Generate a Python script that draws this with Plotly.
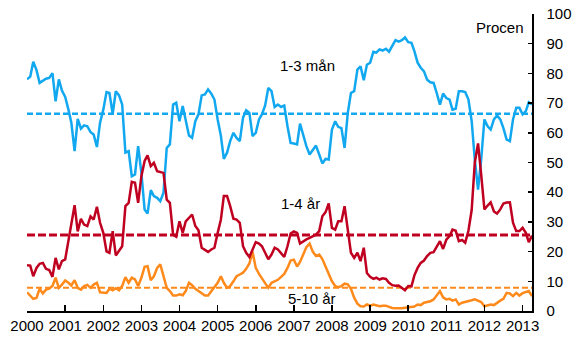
import pandas as pd
import plotly.graph_objects as go

# Monthly observations, Jan 2000 - Apr 2013
months = pd.date_range("2000-01-01", periods=160, freq="MS")

short_1_3m = [
    78.0, 78.9, 83.9, 81.1, 76.8, 77.6, 78.2, 78.5, 80.1, 70.6,
    78.0, 74.2, 72.1, 67.8, 63.4, 53.8, 64.7, 61.4, 62.5, 62.2,
    60.2, 59.4, 55.2, 63.4, 67.8, 73.7, 73.4, 66.4, 74.0, 72.6,
    69.5, 53.3, 53.8, 45.4, 46.0, 55.5, 46.5, 34.2, 32.8, 40.7,
    38.7, 38.1, 37.0, 39.8, 54.9, 56.1, 69.5, 70.1, 63.9, 69.0,
    64.5, 59.1, 58.3, 63.9, 66.2,
    72.6, 72.9, 74.6, 73.2, 71.2, 64.5, 58.9, 51.2, 53.3, 57.2,
    60.0, 58.3, 57.2, 65.1, 67.6, 66.7, 58.9, 60.0, 64.5, 66.2,
    69.2, 75.1, 74.0, 68.7, 69.5, 68.7, 69.2, 62.2, 56.6, 56.4,
    56.1, 63.1, 58.9, 55.5, 52.7, 54.4, 55.7, 52.7, 49.7, 51.2,
    51.0, 61.1, 63.9, 62.0, 61.6, 54.9, 66.7, 73.4, 74.0, 81.3,
    82.4, 77.7, 82.9,
    83.6, 87.3, 87.0, 88.1, 87.7, 88.3, 87.3, 89.4, 91.2, 90.7,
    91.2, 92.1, 90.5, 90.3, 87.5, 83.6, 81.9, 80.7, 77.9, 77.0,
    76.8, 73.4, 69.5, 73.2, 71.7, 71.2, 67.8, 68.1, 74.0, 74.0,
    73.7, 71.2, 63.9, 51.0, 40.9, 51.0, 64.5, 62.2, 61.1, 64.5,
    65.8, 64.5, 61.6, 57.7, 57.2, 64.5, 68.4, 68.4, 66.2, 67.3,
    70.3, 69.5,
]

mid_1_4y = [
    15.4, 15.3, 11.7, 14.5, 15.9, 16.2, 14.2, 13.8, 11.5, 17.9,
    14.0, 16.8, 17.4, 23.2, 29.1, 35.6, 26.8, 31.0, 29.1, 28.6,
    31.9, 30.8, 35.1, 29.7, 26.3, 20.1, 19.6, 26.9, 18.7, 20.5,
    21.8, 35.3, 36.4, 43.5, 43.2, 36.4, 45.4, 50.5, 52.4, 48.8,
    49.9, 47.1, 46.7, 46.5, 37.5, 36.4, 25.7, 25.0, 30.2, 26.3,
    30.2, 31.4, 32.5, 28.6, 27.2,
    21.3, 20.7, 19.9, 20.7, 21.3, 26.3, 30.8, 38.7, 38.7, 35.3,
    31.1, 30.8, 29.7, 21.8, 19.6, 18.2, 20.7, 23.2, 22.7, 21.8,
    19.6, 17.4, 19.0, 21.3, 20.7, 19.6, 18.2, 21.8, 26.1, 26.8,
    26.3, 22.7, 23.5, 24.1, 24.6, 25.2, 25.7, 26.9, 31.9, 33.3,
    36.2, 28.0, 27.4, 30.2, 30.2, 35.3, 26.3, 19.6, 17.9, 19.6,
    16.8, 21.3, 12.8,
    11.5, 10.8, 11.2, 10.6, 11.0, 10.8, 9.5, 8.7, 8.5, 8.6,
    7.8, 7.0, 8.4, 8.3, 12.0, 14.5, 16.2, 17.0, 18.5, 19.6,
    19.8, 21.5, 23.5, 20.9, 24.0, 25.2, 27.4, 27.0, 23.5, 23.9,
    23.0, 27.0, 34.0, 50.0, 56.4, 46.0, 34.2, 35.5, 36.6, 33.5,
    32.8, 34.2, 36.2, 36.5, 36.6, 29.7, 26.9, 26.9, 28.0, 26.3,
    23.2, 25.4,
]

long_5_10y = [
    6.3, 5.0, 4.1, 4.4, 7.5, 5.9, 7.2, 7.5, 8.4, 11.2,
    7.8, 8.9, 10.3, 9.5, 8.6, 10.4, 7.8, 7.2, 8.4, 8.8,
    7.8, 8.9, 9.5, 6.3, 6.1, 6.1, 7.5, 7.0, 7.7, 7.0,
    8.4, 11.4, 9.5, 11.2, 10.6, 8.4, 11.2, 14.9, 15.1, 10.4,
    11.7, 14.5, 15.7, 11.7, 7.8, 6.7, 5.2, 5.2, 5.6, 5.3,
    6.7, 9.5, 8.7, 7.5, 6.7,
    5.9, 5.2, 5.2, 6.7, 8.4, 9.5, 11.7, 9.5, 7.8, 8.4,
    10.0, 11.7, 12.3, 12.9, 14.2, 16.0, 20.0, 14.5, 12.5, 11.0,
    9.0, 7.8, 9.5, 10.0, 10.5, 11.5, 12.5, 14.5, 17.0, 17.3,
    15.0, 16.5, 19.0, 21.5, 22.7, 20.0, 18.5, 19.0, 17.5, 15.0,
    12.5, 10.0, 8.4, 8.0, 8.4, 9.2, 9.0, 7.5, 4.5, 2.5,
    1.6, 1.5, 2.2,
    1.8, 2.2, 2.0, 1.6, 1.8, 1.8, 1.4, 1.0, 0.9, 0.8,
    0.9, 1.1, 1.2, 1.4, 1.5, 2.2, 2.0, 2.8, 3.0, 3.3,
    3.9, 5.2, 6.7, 4.6, 3.9, 4.1, 3.5, 3.9, 2.2, 2.8,
    3.0, 3.3, 3.6, 3.9, 3.5, 3.0, 1.6, 2.0, 2.2, 2.0,
    2.8, 3.5, 4.1, 6.1, 5.9, 5.0, 6.1, 5.2, 6.0, 6.5,
    6.7, 5.0,
]

# Period averages (dashed lines)
avg_1_3m = 66.4
avg_1_4y = 25.6
avg_5_10y = 7.8

series_labels = ["1-3 mån", "1-4 år", "5-10 år"]
year_ticks = [str(y) for y in range(2000, 2014)]

BLUE = "#12A8F0"
RED = "#C00020"
ORANGE = "#FF8A1C"
FONT = "Liberation Sans, Arial, sans-serif"

fig = go.Figure()

x_span = [months[0], months[-1]]
fig.add_trace(go.Scatter(x=x_span, y=[avg_5_10y] * 2, mode="lines",
                         line=dict(color=ORANGE, width=2, dash="6px,3px")))
fig.add_trace(go.Scatter(x=x_span, y=[avg_1_3m] * 2, mode="lines",
                         line=dict(color=BLUE, width=2.5, dash="6px,3px")))
fig.add_trace(go.Scatter(x=months, y=long_5_10y, mode="lines",
                         line=dict(color=ORANGE, width=2.5)))
fig.add_trace(go.Scatter(x=months, y=short_1_3m, mode="lines",
                         line=dict(color=BLUE, width=2.5)))
fig.add_trace(go.Scatter(x=months, y=mid_1_4y, mode="lines",
                         line=dict(color=RED, width=2.5)))
fig.add_trace(go.Scatter(x=x_span, y=[avg_1_4y] * 2, mode="lines",
                         line=dict(color=RED, width=3, dash="8px,3px")))

label_font = dict(size=15, color="black")
fig.update_layout(
    width=580, height=358,
    margin=dict(l=27, r=48, t=14, b=46.5, autoexpand=False),
    paper_bgcolor="white", plot_bgcolor="white",
    showlegend=False,
    hovermode=False,
    font=dict(family=FONT, size=15, color="black"),
    xaxis=dict(
        type="date",
        range=["2000-01-01", "2013-04-01"],
        tickvals=[f"{y}-01-01" for y in year_ticks],
        ticktext=year_ticks,
        ticks="inside", ticklen=6, tickwidth=1.5, tickcolor="black",
        showline=True, linecolor="black", linewidth=1.5,
        showgrid=False, zeroline=False,
        automargin=False,
        ticklabeloverflow="allow",
        tickfont=dict(size=15),
    ),
    yaxis=dict(
        side="right",
        range=[0, 100], dtick=10,
        ticks="inside", ticklen=4, tickwidth=1.5, tickcolor="black",
        showline=True, linecolor="black", linewidth=1.5,
        showgrid=False, zeroline=False,
        automargin=False,
        ticklabelstandoff=10,
        ticklabeloverflow="allow",
        tickfont=dict(size=15),
    ),
    annotations=[
        dict(text=series_labels[0], x=0.556, y=0.825, xref="paper", yref="paper",
             xanchor="center", yanchor="middle", showarrow=False, font=label_font),
        dict(text=series_labels[1], x=0.541, y=0.361, xref="paper", yref="paper",
             xanchor="center", yanchor="middle", showarrow=False, font=label_font),
        dict(text=series_labels[2], x=0.565, y=0.042, xref="paper", yref="paper",
             xanchor="center", yanchor="middle", showarrow=False, font=label_font),
        dict(text="Procen", x=0.937, y=0.955, xref="paper", yref="paper",
             xanchor="center", yanchor="middle", showarrow=False, font=label_font),
    ],
)

fig.write_html(
    "out.html",
    config={"displayModeBar": False, "staticPlot": True},
    post_script="document.body.style.margin='0';document.body.style.overflow='hidden';",
)
